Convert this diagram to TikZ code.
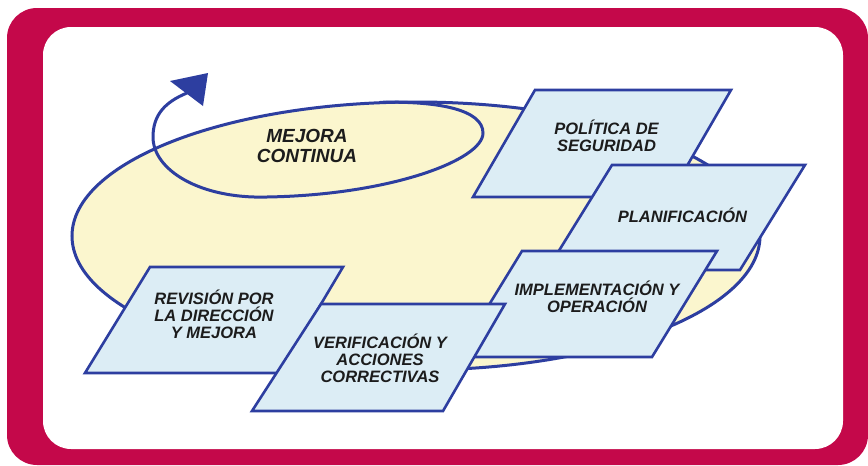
\documentclass[tikz,border=0pt]{standalone}
\usepackage{fontspec}
\setmainfont{Liberation Sans}
\definecolor{framecol}{RGB}{196,8,74}
\definecolor{ellfill}{RGB}{251,246,206}
\definecolor{boxfill}{RGB}{220,237,245}
\definecolor{lineblue}{RGB}{45,62,160}
\definecolor{txtcol}{RGB}{28,28,28}
\begin{document}
\begin{tikzpicture}[x=1pt,y=-1pt,
  boxshape/.style={fill=boxfill, draw=lineblue, line width=2.6pt, line join=miter},
  lbl/.style={font=\fontsize{16.5}{17}\selectfont\bfseries\itshape, align=center, inner sep=0pt, text=txtcol},
  biglbl/.style={font=\fontsize{19}{20.5}\selectfont\bfseries\itshape, align=center, inner sep=0pt, text=txtcol},
  loopline/.style={draw=lineblue, line width=3pt, line cap=round}
]
\useasboundingbox (0,0) rectangle (868,466);
% frame
\fill[framecol, rounded corners=30pt] (7,8) rectangle (868,465);
\fill[white, rounded corners=28pt] (43,27) rectangle (843,449);
% big ellipse
\path[fill=ellfill, draw=lineblue, line width=3pt] (416,236) ellipse [x radius=344, y radius=134];
% continuous improvement loop
\path[loopline] (380,102.3) .. controls (440,101) and (483,110) .. (483,133)
  .. controls (483,160) and (390,195) .. (267,197)
  .. controls (200,199) and (153,170) .. (153,137)
  .. controls (153,115) and (165,102) .. (187,93);
\fill[lineblue] (170,81) -- (208,73) -- (203,106) -- cycle;
\node[biglbl] (mejora) at (307,146.2) {MEJORA\\CONTINUA};
% boxes
\path[boxshape] (535,90) -- (731,90) -- (669,197) -- (473,197) -- cycle;
\node[lbl] (politica) at (606.5,135.3) {POLÍTICA DE\\SEGURIDAD};
\path[boxshape] (612,165) -- (805,165) -- (740,270) -- (547,270) -- cycle;
\node[lbl] (planif) at (682.5,215.4) {PLANIFICACIÓN};
\path[boxshape] (522,251) -- (717,251) -- (652,357) -- (457,357) -- cycle;
\node[lbl] (implem) at (597,296.4) {IMPLEMENTACIÓN Y\\OPERACIÓN};
\path[boxshape] (150,267) -- (343,267) -- (280,373) -- (85,373) -- cycle;
\node[lbl] (revision) at (214,314) {REVISIÓN POR\\LA DIRECCIÓN\\Y MEJORA};
\path[boxshape] (321,304) -- (505,304) -- (443,411) -- (252,411) -- cycle;
\node[lbl] (verif) at (380,357.9) {VERIFICACIÓN Y\\ACCIONES\\CORRECTIVAS};
\end{tikzpicture}
\end{document}
